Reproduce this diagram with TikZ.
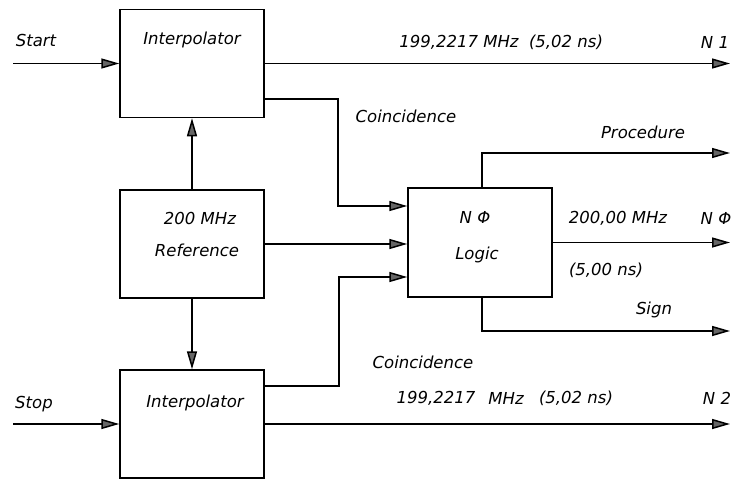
\documentclass[tikz,border=0pt]{standalone}
\usepackage{fontspec}
\setmainfont{DejaVu Sans}
\usetikzlibrary{arrows.meta}
\begin{document}
\begin{tikzpicture}[x=1pt,y=-1pt,line width=1.5pt,
  font=\itshape\fontsize{16.5}{20}\selectfont,
  blockbox/.style={draw,rectangle,minimum width=144pt,minimum height=108pt,inner sep=0pt},
  lbl/.style={inner sep=0pt,anchor=center},
  arr/.style={-{Triangle[length=18pt,width=10pt,fill=black!60]}}]
\path[use as bounding box,fill=white] (0,0) rectangle (734,479);
% boxes
\node[blockbox] (U) at (192,63.5) {};
\node[blockbox] (R) at (192,244) {};
\node[blockbox] (D) at (192,424) {};
\node[blockbox,minimum height=109pt] (L) at (480,242.5) {};
% box texts
\node[lbl] (tU) at (192,40) {Interpolator};
\node[lbl] (tD) at (195,403) {Interpolator};
\node[lbl] (tR1) at (200,218) {200 MHz};
\node[lbl] (tR2) at (197,250) {Reference};
\node[lbl] (tL1) at (475,217) {N Φ};
\node[lbl] (tL2) at (477,255) {Logic};
% labels
\node[lbl] (tStart) at (36,40) {Start};
\node[lbl] (tStop) at (34,404) {Stop};
\node[lbl] (tF1) at (459,42) {199,2217 MHz};
\node[lbl] (tT1) at (566,42) {(5,02 ns)};
\node[lbl] (tN1) at (715,42) {N 1};
\node[lbl] (tC1) at (406,116) {Coincidence};
\node[lbl] (tProc) at (643,132) {Procedure};
\node[lbl] (tF0) at (618,218) {200,00 MHz};
\node[lbl] (tN0) at (716,218) {N Φ};
\node[lbl] (tT0) at (606,270) {(5,00 ns)};
\node[lbl] (tSign) at (654,310) {Sign};
\node[lbl] (tC2) at (423,362) {Coincidence};
\node[lbl] (tF2a) at (436,398) {199,2217};
\node[lbl] (tF2b) at (506,398) {MHz};
\node[lbl] (tT2) at (576,398) {(5,02 ns)};
\node[lbl] (tN2) at (717,398) {N 2};
% free ends
\coordinate (sIn) at (13,63.5);
\coordinate (pIn) at (13,424);
\coordinate (o1) at (730,63.5);
\coordinate (o2) at (730,424);
\coordinate (oProc) at (730,153);
\coordinate (oN0) at (730,242.5);
\coordinate (oSign) at (730,331);
% connectors
\draw[arr] (sIn) -- (U.west);
\draw[arr] (pIn) -- (D.west);
\draw[arr] (U.east) -- (o1);
\draw[arr] (D.east) -- (o2);
\draw[arr] (R.north) -- (U.south);
\draw[arr] (R.south) -- (D.north);
\draw[arr] (R.east) -- (R.east -| L.west);
\draw[arr] ([yshift=-35.5pt]U.east) -- ++(73,0) |- ([yshift=36.5pt]L.west);
\draw[arr] ([yshift=38pt]D.east) -- ++(74,0) |- ([yshift=-34.5pt]L.west);
\draw[arr] ([xshift=2pt]L.north) |- (oProc);
\draw[arr] ([xshift=2pt]L.south) |- (oSign);
\draw[arr] (L.east) -- (oN0);
\end{tikzpicture}
\end{document}
